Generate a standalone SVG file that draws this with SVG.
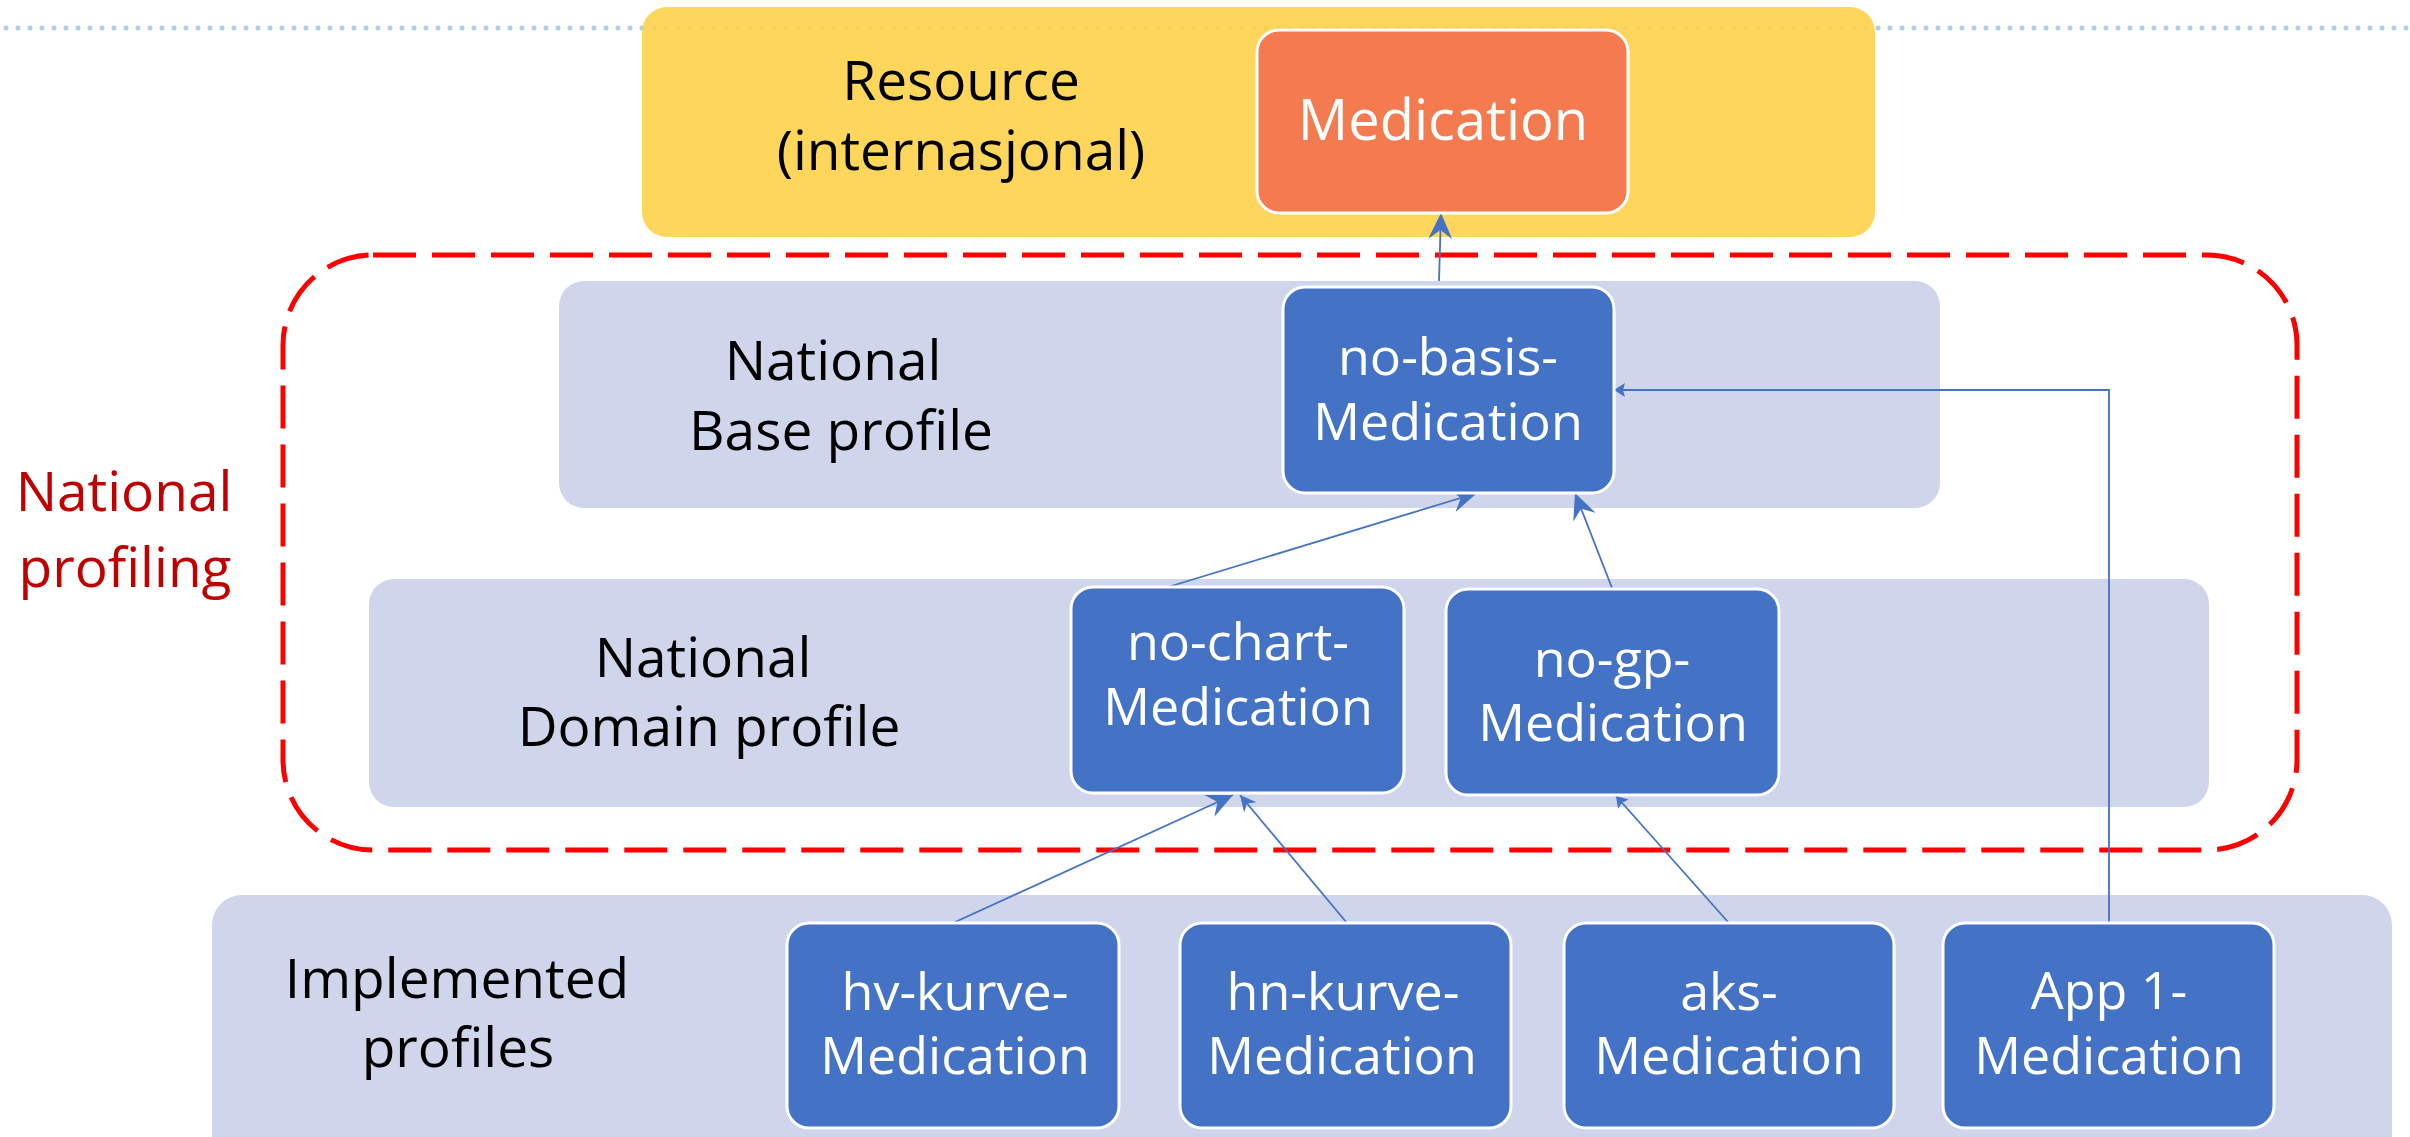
<svg xmlns="http://www.w3.org/2000/svg" width="2410" height="1137" viewBox="0 0 2410 1137">
  <style>
    .t { font-family: "Open Sans", "Noto Sans", "Liberation Sans", sans-serif; font-size: 55px; text-anchor: middle; }
    .nt { font-family: "Open Sans", "Noto Sans", "Liberation Sans", sans-serif; font-size: 52px; text-anchor: middle; fill: #FFFFFF; }
    .dark { fill: #000000; }
    .white { fill: #FFFFFF; }
    .red { fill: #C00000; }
    .band { fill: #CFD5EA; }
    .node { fill: #4472C4; stroke: #FFFFFF; stroke-width: 3; }
    .conn { fill: none; stroke: #4472C4; stroke-width: 1.8; }
  </style>
  <defs>
    <marker id="big" markerUnits="userSpaceOnUse" viewBox="-28 -14 30 28" refX="0" refY="0" markerWidth="30" markerHeight="28" orient="auto" overflow="visible">
      <path d="M0,0 L-26,-12 L-17,0 L-26,12 Z" fill="#4472C4"/>
    </marker>
    <marker id="mid" markerUnits="userSpaceOnUse" viewBox="-18 -10 20 20" refX="0" refY="0" markerWidth="20" markerHeight="20" orient="auto" overflow="visible">
      <path d="M0,0 L-16,-8 L-11,0 L-16,8 Z" fill="#4472C4"/>
    </marker>
    <marker id="small" markerUnits="userSpaceOnUse" viewBox="-13 -8 15 16" refX="0" refY="0" markerWidth="15" markerHeight="16" orient="auto" overflow="visible">
      <path d="M0,0 L-11,-7 L-9,0 L-11,7 Z" fill="#4472C4"/>
    </marker>
  </defs>

  <rect x="0" y="0" width="2410" height="1137" fill="#FFFFFF"/>

  <g id="dotted-rule">
    <line x1="6" y1="28" x2="2410" y2="28" stroke="#ADCDEA" stroke-width="5" stroke-linecap="round" stroke-dasharray="0 12"/>
  </g>

  <g id="layer-resource">
    <rect x="642" y="7" width="1233" height="230" rx="25" fill="#FED046" fill-opacity="0.88"/>
    <text class="t dark"><tspan x="961" y="100">Resource</tspan><tspan x="961" dy="70">(internasjonal)</tspan></text>
  </g>

  <g id="layer-base">
    <rect class="band" x="559" y="281" width="1381" height="227" rx="25"/>
    <text class="t dark"><tspan x="833" y="380">National</tspan><tspan x="841" dy="70">Base profile</tspan></text>
  </g>

  <g id="layer-domain">
    <rect class="band" x="369" y="579" width="1840" height="228" rx="25"/>
    <text class="t dark"><tspan x="703" y="677">National</tspan><tspan x="709" dy="69">Domain profile</tspan></text>
  </g>

  <g id="layer-implemented">
    <rect class="band" x="212" y="895" width="2180" height="270" rx="30"/>
    <text class="t dark"><tspan x="457" y="998">Implemented</tspan><tspan x="458" dy="69">profiles</tspan></text>
  </g>

  <g id="national-profiling">
    <rect x="283" y="255" width="2014" height="595" rx="90" fill="none" stroke="#FF0000" stroke-width="5" stroke-dasharray="43 16"/>
    <text class="t red"><tspan x="124" y="511">National</tspan><tspan x="125" dy="76">profiling</tspan></text>
  </g>

  <g id="connectors">
    <line class="conn" x1="1439" y1="281" x2="1441" y2="213" marker-end="url(#big)"/>
    <line class="conn" x1="1168" y1="587" x2="1477" y2="493" marker-end="url(#big)"/>
    <line class="conn" x1="1612" y1="588" x2="1575" y2="493" marker-end="url(#big)"/>
    <polyline class="conn" points="2109,923 2109,390 1614,390" marker-end="url(#small)"/>
    <line class="conn" x1="953" y1="923" x2="1233" y2="795" marker-end="url(#big)"/>
    <line class="conn" x1="1347" y1="923" x2="1240" y2="795" marker-end="url(#mid)"/>
    <line class="conn" x1="1728" y1="922" x2="1616" y2="796" marker-end="url(#small)"/>
  </g>

  <g id="node-medication">
    <rect x="1257" y="30" width="371" height="183" rx="22" fill="#F47A50" stroke="#FFFFFF" stroke-width="3"/>
    <text class="t white" x="1443" y="140" style="font-size:56px">Medication</text>
  </g>

  <g id="node-no-basis">
    <rect class="node" x="1283" y="287" width="331" height="206" rx="22"/>
    <text class="nt"><tspan x="1448" y="375">no-basis-</tspan><tspan x="1448" dy="65">Medication</tspan></text>
  </g>

  <g id="node-no-chart">
    <rect class="node" x="1071" y="587" width="333" height="206" rx="22"/>
    <text class="nt"><tspan x="1238" y="660">no-chart-</tspan><tspan x="1238" dy="65">Medication</tspan></text>
  </g>

  <g id="node-no-gp">
    <rect class="node" x="1446" y="589" width="333" height="206" rx="22"/>
    <text class="nt"><tspan x="1612" y="677">no-gp-</tspan><tspan x="1613" dy="64">Medication</tspan></text>
  </g>

  <g id="node-hv-kurve">
    <rect class="node" x="787" y="923" width="332" height="205" rx="22"/>
    <text class="nt"><tspan x="955" y="1010">hv-kurve-</tspan><tspan x="955" dy="64">Medication</tspan></text>
  </g>

  <g id="node-hn-kurve">
    <rect class="node" x="1180" y="923" width="331" height="205" rx="22"/>
    <text class="nt"><tspan x="1343" y="1010">hn-kurve-</tspan><tspan x="1342" dy="64">Medication</tspan></text>
  </g>

  <g id="node-aks">
    <rect class="node" x="1564" y="923" width="330" height="205" rx="22"/>
    <text class="nt"><tspan x="1729" y="1010">aks-</tspan><tspan x="1729" dy="64">Medication</tspan></text>
  </g>

  <g id="node-app1">
    <rect class="node" x="1943" y="923" width="331" height="205" rx="22"/>
    <text class="nt"><tspan x="2109" y="1009">App 1-</tspan><tspan x="2109" dy="65">Medication</tspan></text>
  </g>
</svg>
